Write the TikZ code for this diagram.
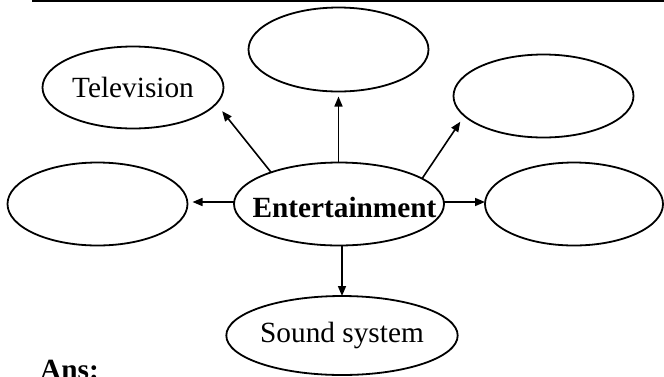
\documentclass[tikz,border=0pt]{standalone}
\usepackage{fontspec}
\setmainfont{Liberation Serif}
\usetikzlibrary{shapes.geometric,arrows.meta,calc}
\tikzset{
  oval/.style={ellipse, draw, line width=1.8pt, inner sep=0pt, outer sep=0pt,
    font=\fontsize{29.3}{34}\selectfont},
  conn/.style={line width=1.6pt, -{Triangle[length=10pt,width=8pt]}},
}
\begin{document}
\begin{tikzpicture}[x=1pt,y=-1pt]
\useasboundingbox (0,0) rectangle (664,376);
\clip (0,0) rectangle (664,376);
\draw[line width=2.4pt] (32,1.2) -- (664,1.2);
\node[oval, minimum width=181pt, minimum height=82pt] (tv) at (133,87.5) {Television};
\node[oval, minimum width=180pt, minimum height=84pt] (top) at (338.5,49.5) {};
\node[oval, minimum width=180pt, minimum height=83pt] (tr) at (543.5,96) {};
\node[oval, minimum width=180pt, minimum height=83pt] (left) at (97.5,204) {};
\node[oval, minimum width=210pt, minimum height=83pt] (ent) at (339,204) {};
\node[font=\fontsize{29.3}{34}\selectfont\bfseries] (entlbl) at ([shift={(5.5,3)}]ent.center) {Entertainment};
\node[oval, minimum width=178pt, minimum height=83pt] (right) at (574,204) {};
\node[oval, minimum width=180pt, minimum height=79pt] (snd) at (342,335.5) {Sound system};
\node[anchor=base west, inner sep=0pt, font=\fontsize{29.3}{34}\selectfont\bfseries] (ans) at (40,379.5) {Ans:};
\draw[conn, shorten >=9.6pt] (ent.155.7) -- (tv.-11.5);
\draw[conn, shorten >=5pt] (top.south |- ent.north) -- (top.south);
\draw[conn, shorten >=7.2pt] (ent.17.6) -- (tr.194.1);
\draw[conn, shorten >=5pt] ([yshift=2]ent.west) -- ([yshift=2]left.east);
\draw[conn, shorten >=0pt] ([yshift=2]ent.east) -- ([yshift=2]right.west);
\draw[conn] (snd.north |- ent.south) -- (snd.north);
\end{tikzpicture}
\end{document}
